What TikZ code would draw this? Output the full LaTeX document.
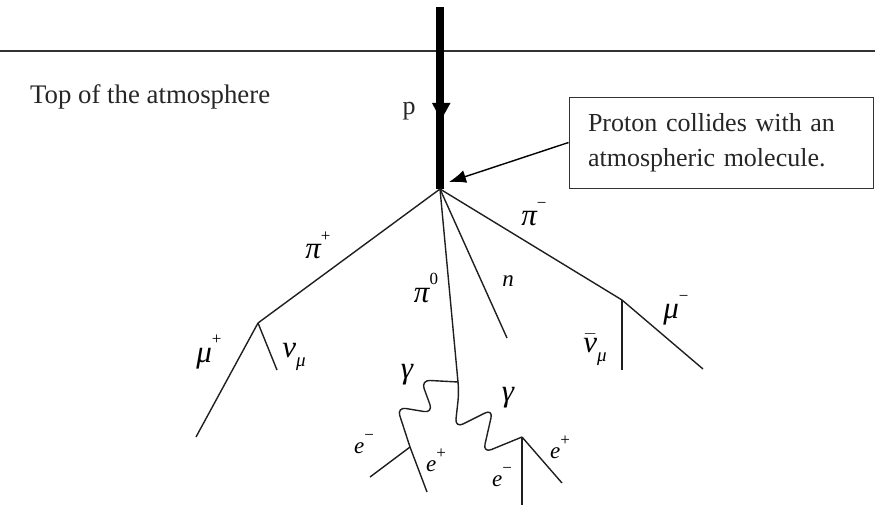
\RequirePackage{fix-cm}
\documentclass[tikz,border=0pt]{standalone}
\usepackage{fontspec}
\setmainfont{Liberation Serif}
\usetikzlibrary{arrows.meta}
\newcommand{\sups}[1]{\raisebox{0.55em}{\fontsize{17}{17}\selectfont\upshape #1}}
\newcommand{\subs}[1]{\raisebox{-0.3em}{\fontsize{19}{19}\selectfont #1}}
\begin{document}
\begin{tikzpicture}[x=1pt,y=-1pt,
  track/.style={line width=1.4pt, draw=black!88},
  txt/.style={font=\fontsize{26}{35}\selectfont, inner sep=0pt, text=black!85},
  gk/.style={font=\fontsize{31}{34}\selectfont\itshape, inner sep=0pt},
  sm/.style={font=\fontsize{23}{26}\selectfont\itshape, inner sep=0pt}]
\useasboundingbox (0,0) rectangle (887,511);
% coordinates
\coordinate (top) at (440,7);
\coordinate (V) at (440,189);
\coordinate (hit) at (449,182);
\coordinate (Pp) at (258,323);
\coordinate (mup) at (196,437);
\coordinate (nump) at (277,370);
\coordinate (P0) at (458,382);
\coordinate (nend) at (507,338);
\coordinate (Pm) at (622,300);
\coordinate (mum) at (703,369);
\coordinate (numm) at (622,370);
\coordinate (L) at (410,447);
\coordinate (Lep) at (427,492);
\coordinate (Lem) at (370,477);
\coordinate (R) at (522,437);
\coordinate (Rem) at (522,505);
\coordinate (Rep) at (562,483);
\coordinate (hl) at (0,51);
\coordinate (hr) at (875,51);
% atmosphere line
\draw[line width=1.2pt, draw=black!80] (hl) -- (hr);
\node[txt, font=\fontsize{26.8}{35}\selectfont, anchor=base west] (toptext) at (30,103) {Top of the atmosphere};
% proton
\draw[line width=7.5pt] (top) -- (V);
\fill (432,103) -- (450.5,103) -- (441,120) -- cycle;
\node[txt, anchor=base] (plabel) at (409,114) {p};
% box
\node[txt, draw=black!80, line width=0.9pt, text width=266pt, inner xsep=19pt, inner ysep=0pt,
  minimum height=91pt, align=left] (box) at (721,142.5) {Proton collides with an\\atmospheric molecule.};
\draw[line width=1.4pt, -{Latex[length=17pt,width=13pt]}] (box.west) -- (hit);
% tracks
\draw[track] (V) -- (Pp);
\draw[track] (Pp) -- (mup);
\draw[track] (Pp) -- (nump);
\draw[track] (V) -- (P0);
\draw[track] (V) -- (nend);
\draw[track] (V) -- (Pm);
\draw[track] (Pm) -- (mum);
\draw[track] (Pm) -- (numm);
% photons
\draw[track, rounded corners=9pt] (P0) -- (421,380) -- (433,413) -- (397,407) -- (L);
\draw[track, rounded corners=9pt] (P0) -- (459,392) -- (455,428) -- (493,409) -- (483,453) -- (R);
\draw[track] (L) -- (Lep);
\draw[track] (L) -- (Lem);
\draw[track] (R) -- (Rem);
\draw[track] (R) -- (Rep);
% labels
\node[gk] (lpip) at (318,245) {π\sups{+}};
\node[gk] (lpi0) at (426,288) {π\sups{0}};
\node[sm] (ln) at (508,281) {n};
\node[gk] (lpim) at (534,214) {π\sups{−}};
\node[gk] (lmum) at (676,310) {μ\sups{−}};
\node[gk] (lnumm) at (595,350) {$\bar{\hbox{ν}}$\subs{μ}};
\node[gk] (lmup) at (209,352) {μ\sups{+}};
\node[gk] (lnump) at (294,357) {ν\subs{μ}};
\node[gk] (lgl) at (407,375) {γ};
\node[gk] (lgr) at (508,398) {γ};
\node[sm] (lelm) at (364,444) {e\sups{−}};
\node[sm] (lelp) at (436,460) {e\sups{+}};
\node[sm] (lerm) at (502,477) {e\sups{−}};
\node[sm] (lerp) at (560,447) {e\sups{+}};
\end{tikzpicture}
\end{document}
